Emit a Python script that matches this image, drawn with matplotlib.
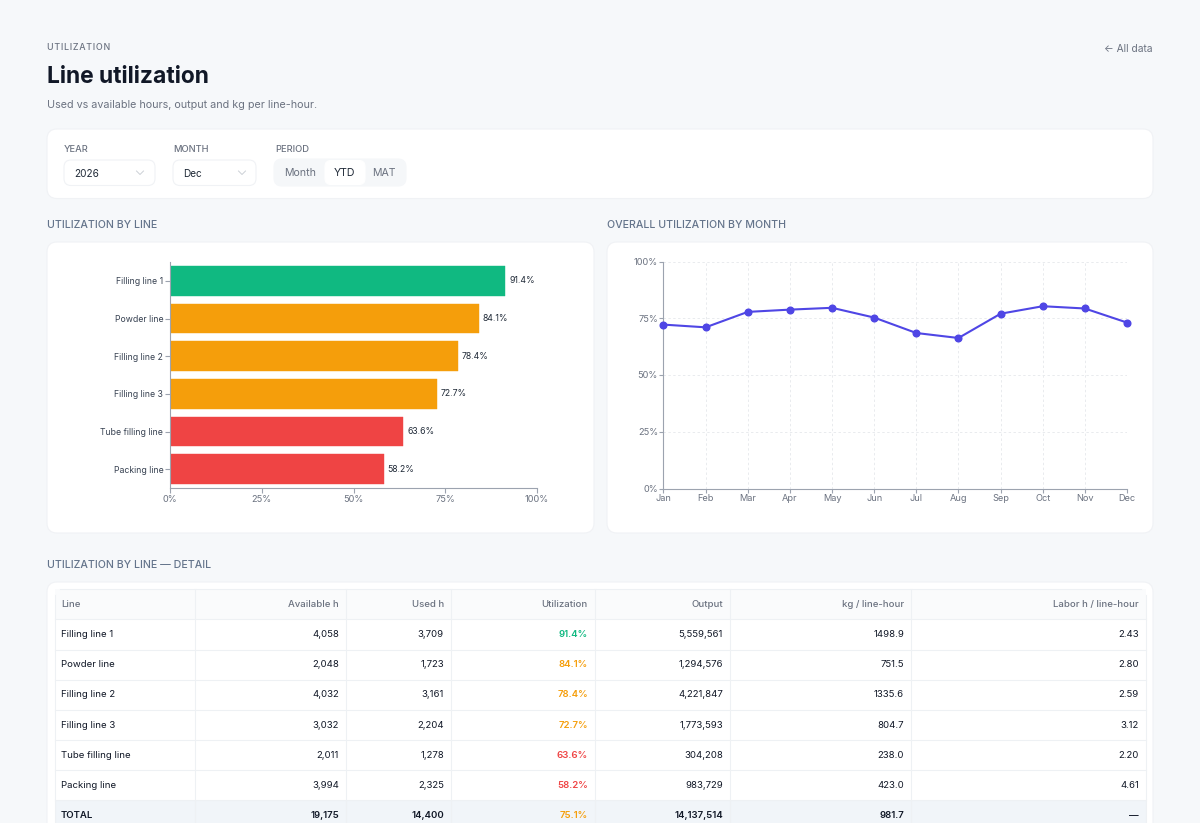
import matplotlib
matplotlib.use("Agg")
import matplotlib.pyplot as plt
from matplotlib.patches import FancyBboxPatch, Rectangle

plt.rcParams["font.family"] = ["Inter", "DejaVu Sans"]

W, H = 1200, 823

lines = ["Filling line 1", "Powder line", "Filling line 2", "Filling line 3", "Tube filling line", "Packing line"]
utilization = [91.4, 84.1, 78.4, 72.7, 63.6, 58.2]
bar_colors = ["#10b981", "#f59e0b", "#f59e0b", "#f59e0b", "#ef4444", "#ef4444"]
pct_ticks = [0, 25, 50, 75, 100]

months = ["Jan", "Feb", "Mar", "Apr", "May", "Jun", "Jul", "Aug", "Sep", "Oct", "Nov", "Dec"]
overall = [72.2, 71.0, 77.8, 78.8, 79.6, 75.3, 68.5, 66.3, 77.0, 80.3, 79.3, 73.1]

available_h = [4058, 2048, 4032, 3032, 2011, 3994]
used_h = [3709, 1723, 3161, 2204, 1278, 2325]
output = [5559561, 1294576, 4221847, 1773593, 304208, 983729]
kg_per_hour = [1498.9, 751.5, 1335.6, 804.7, 238.0, 423.0]
labor_per_hour = [2.43, 2.80, 2.59, 3.12, 2.20, 4.61]
total_row = ["TOTAL", "19,175", "14,400", "75.1%", "14,137,514", "981.7", "—"]
headers = ["Line", "Available h", "Used h", "Utilization", "Output", "kg / line-hour", "Labor h / line-hour"]

INK = "#111827"
MUTED = "#6b7280"
BORDER = "#eef1f4"
CELL = 9.6


def px(size):
    return size * 0.72


def card(ax, x0, y0, x1, y1, r=10, fc="white", ec="#f0f2f5"):
    ax.add_patch(FancyBboxPatch((x0, y0), x1 - x0, y1 - y0, boxstyle=f"round,pad=0,rounding_size={r}",
                                fc=fc, ec=ec, lw=0.8))


def inset(x0, y0, x1, y1):
    return fig.add_axes([x0 / W, 1 - y1 / H, (x1 - x0) / W, (y1 - y0) / H])


fig = plt.figure(figsize=(12, 8.23), dpi=100, facecolor="#f6f8fa")
bg = fig.add_axes([0, 0, 1, 1])
bg.set_xlim(0, W)
bg.set_ylim(H, 0)
bg.axis("off")


def label(x, y, s, size, color=INK, weight="normal", ha="left"):
    # text sits about 1px high with va=center
    bg.text(x, y + 1, s, fontsize=px(size), color=color, fontweight=weight, ha=ha, va="center")


# header
label(47, 46, "U T I L I Z A T I O N".replace(" ", "\u200a"), 8.9, MUTED, "medium")
label(47, 75.5, "Line utilization", 22.8, INK, "bold")
label(47, 104, "Used vs available hours, output and kg per line-hour.", 10.8, MUTED)
label(1153, 47.5, "← All data", 10.2, MUTED, ha="right")

# filter bar
card(bg, 47, 129, 1153, 198.5)
label(64, 148.5, "YEAR", 9.3, MUTED, "medium")
label(173, 148.5, "MONTH", 9.3, MUTED, "medium")
label(275, 148.5, "PERIOD", 9.3, MUTED, "medium")
card(bg, 64, 160, 155, 185.5, r=7)
card(bg, 173, 160, 256, 185.5, r=7)
label(74, 172.5, "2026", 10, "#1f2937")
label(183, 172.5, "Dec", 10, "#1f2937")
for cx in (140, 242):
    bg.plot([cx - 3.5, cx, cx + 3.5], [171, 174.5, 171], color="#ccd0d6", lw=0.7)
card(bg, 274, 159, 406, 186, r=8, fc="#f5f7f9", ec="#f5f7f9")
card(bg, 325, 160.5, 365, 184.5, r=6, ec="white")
label(300.5, 171.5, "Month", 10.6, MUTED, ha="center")
label(344.5, 171.5, "YTD", 10.6, "#1f2937", ha="center")
label(383.5, 171.5, "MAT", 10.6, MUTED, ha="center")

# section titles
label(47, 223.5, "UTILIZATION BY LINE", 10.6, "#64748b", "medium")
label(607, 223.5, "OVERALL UTILIZATION BY MONTH", 10.6, "#64748b", "medium")
label(47, 564.5, "UTILIZATION BY LINE — DETAIL", 10.6, "#64748b", "medium")

card(bg, 47, 242, 594, 533)
card(bg, 607, 242, 1153, 533)

# bar chart
ax1 = inset(170, 262, 537, 488)
ax1.set_facecolor("none")
y_pos = list(range(len(lines)))
bars = ax1.barh(y_pos, utilization, height=0.78, color=bar_colors, edgecolor=bar_colors, lw=0.3, joinstyle="round")
ax1.set_xlim(0, 100)
ax1.set_ylim(5.5, -0.5)
ax1.set_yticks(y_pos, lines)
ax1.set_xticks(pct_ticks, [f"{t}%" for t in pct_ticks])
for s in ("top", "right"):
    ax1.spines[s].set_visible(False)
for s in ("left", "bottom"):
    ax1.spines[s].set_color("#9ca3af")
ax1.tick_params(axis="y", labelsize=px(8.7), labelcolor="#374151", color="#9ca3af", length=3.3, pad=1.5, width=0.8)
ax1.tick_params(axis="x", labelsize=px(9.2), labelcolor=MUTED, color="#9ca3af", length=3.5, pad=1.5, width=0.8)
for v, yy in zip(utilization, y_pos):
    ax1.text(v + 1.1, yy, f"{v:.1f}%", fontsize=px(8.7), color="#1f2937", va="center", ha="left")

# line chart
ax2 = inset(663.5, 261.5, 1127, 488.5)
ax2.set_facecolor("none")
ax2.plot(months, overall, color="#4f46e5", lw=1.5, marker="o", ms=4.8, clip_on=False, zorder=3)
ax2.set_xlim(0, len(months) - 1)
ax2.set_ylim(0, 100)
ax2.set_yticks(pct_ticks, [f"{t}%" for t in pct_ticks])
ax2.grid(True, color="#e9ebee", lw=0.7, ls=(0, (2.5, 2.5)))
ax2.set_axisbelow(True)
for s in ("top", "right"):
    ax2.spines[s].set_visible(False)
for s in ("left", "bottom"):
    ax2.spines[s].set_color("#9ca3af")
ax2.tick_params(axis="y", labelsize=px(9.2), labelcolor=MUTED, color="#9ca3af", length=3, pad=1, width=0.8)
ax2.tick_params(axis="x", labelsize=px(9.2), labelcolor=MUTED, color="#9ca3af", length=3, pad=1.2, width=0.8)

# table
card(bg, 47, 582, 1153, 860)
col_lines = [195, 346, 451, 595, 730, 911]
col_right = [339, 444, 588, 723, 904, 1139]
row_lines = [619, 649.5, 679.5, 710, 740, 770, 800]
row_mid = [634, 664, 694, 725, 755, 785]

bg.add_patch(Rectangle((55, 589), 1091, 30, fc="#fafbfc", ec="none"))
bg.add_patch(Rectangle((55, 800), 1091, 30, fc="#f1f5f9", ec="none"))
bg.plot([55, 55], [595, 830], color=BORDER, lw=0.8)
bg.plot([1146, 1146], [595, 830], color=BORDER, lw=0.8)
bg.plot([60, 1141], [589, 589], color=BORDER, lw=0.8)
for yy in row_lines:
    bg.plot([55, 1146], [yy, yy], color=BORDER, lw=0.8)
for xx in col_lines:
    bg.plot([xx, xx], [589, 830], color=BORDER, lw=0.8)

label(61, 603.5, headers[0], CELL, MUTED, "medium")
for xr, h in zip(col_right, headers[1:]):
    label(xr, 603.5, h, CELL, MUTED, "medium", ha="right")

for i, name in enumerate(lines):
    ym = row_mid[i] - 0.5
    label(61, ym, name, CELL, INK)
    cells = [f"{available_h[i]:,}", f"{used_h[i]:,}", f"{utilization[i]:.1f}%", f"{output[i]:,}",
             f"{kg_per_hour[i]:.1f}", f"{labor_per_hour[i]:.2f}"]
    for j, (xr, c) in enumerate(zip(col_right, cells)):
        if j == 2:
            label(xr, ym, c, CELL, bar_colors[i], "semibold", ha="right")
        else:
            label(xr, ym, c, CELL, INK, ha="right")

label(61, 814.5, total_row[0], CELL, INK, "semibold")
for j, (xr, c) in enumerate(zip(col_right, total_row[1:])):
    label(xr, 814.5, c, CELL, "#f59e0b" if j == 2 else INK, "semibold", ha="right")

fig.savefig("out.png", dpi=100, facecolor=fig.get_facecolor())
